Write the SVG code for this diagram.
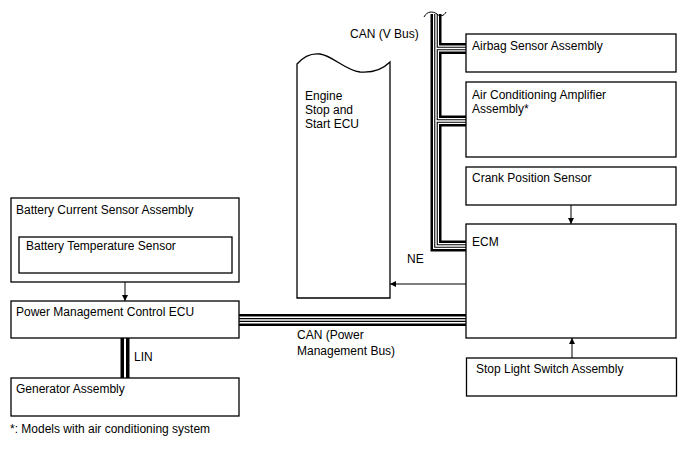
<svg xmlns="http://www.w3.org/2000/svg" width="688" height="463" viewBox="0 0 688 463">
<defs>
<style>
.box{fill:#fff;stroke:#000;stroke-width:1.3}
.t{font-family:"Liberation Sans",Arial,sans-serif;font-size:12px;fill:#000}
.ln{fill:none;stroke:#000;stroke-width:1}
.b1{fill:none;stroke:#000;stroke-linejoin:miter}
.b2{fill:none;stroke:#fff;stroke-linejoin:miter}
</style>
<marker id="ah" viewBox="0 0 10 10" refX="10" refY="5" markerWidth="6" markerHeight="8" markerUnits="userSpaceOnUse" orient="auto">
<path d="M0,0 L10,5 L0,10 Z" fill="#000"/>
</marker>
</defs>
<rect width="688" height="463" fill="#fff"/>

<g id="connectors">
  <g id="can-v-bus">
    <path class="b1" stroke-width="11" d="M436,14 V246 H466 M436,48.5 H466 M436,121 H466"/>
    <path class="b2" stroke-width="6" d="M436,12 V246 H466 M436,48.5 H466 M436,121 H466"/>
    <path class="b1" stroke-width="3.6" d="M436,13 V246 H466 M436,48.5 H466 M436,121 H466"/>
    <path class="b2" stroke-width="1.4" d="M436,12 V246 H466 M436,48.5 H466 M436,121 H466"/>
    <rect x="428" y="6" width="20" height="8" fill="#fff"/>
    <path class="ln" stroke-width="1.4" d="M424,17 C427,11 433,11 437,14 C440,17 444,16 446,12"/>
  </g>
  <g id="can-pm-bus">
    <path class="b1" stroke-width="12" d="M239,320 H466"/>
    <path class="b2" stroke-width="7" d="M239,320 H466"/>
    <path class="b1" stroke-width="3.8" d="M239,320 H466"/>
    <path class="b2" stroke-width="1.6" d="M239,320 H466"/>
  </g>
  <g id="lin">
    <path class="b1" stroke-width="9" d="M125,338 V378"/>
    <path class="b2" stroke-width="2" d="M125,338 V378"/>
  </g>
  <line class="ln" x1="125" y1="282" x2="125" y2="301" marker-end="url(#ah)"/>
  <line class="ln" x1="571" y1="205" x2="571" y2="224" marker-end="url(#ah)"/>
  <line class="ln" x1="572" y1="358" x2="572" y2="338" marker-end="url(#ah)"/>
  <line class="ln" x1="466" y1="284" x2="390" y2="284" marker-end="url(#ah)"/>
  <text class="t" x="350" y="38">CAN (V Bus)</text>
  <text class="t" x="297" y="339">CAN (Power</text>
  <text class="t" x="297" y="355">Management Bus)</text>
  <text class="t" x="134" y="361">LIN</text>
  <text class="t" x="407" y="263">NE</text>
</g>

<g id="engine-ecu">
  <path class="box" d="M297,298 V64 C304,56 312,53 320,54 C333,56 345,70 360,72 C372,73 383,69 390,62 V298 Z"/>
  <text class="t" x="305" y="100">Engine</text>
  <text class="t" x="305" y="114">Stop and</text>
  <text class="t" x="305" y="128">Start ECU</text>
</g>

<g id="airbag">
  <rect class="box" x="466" y="34" width="210" height="38"/>
  <text class="t" x="472" y="50">Airbag Sensor Assembly</text>
</g>
<g id="ac-amp">
  <rect class="box" x="466" y="82" width="210" height="75"/>
  <text class="t" x="472" y="99">Air Conditioning Amplifier</text>
  <text class="t" x="472" y="113">Assembly*</text>
</g>
<g id="crank">
  <rect class="box" x="466" y="167" width="210" height="38"/>
  <text class="t" x="472" y="182">Crank Position Sensor</text>
</g>
<g id="ecm">
  <rect class="box" x="466" y="224" width="210" height="114"/>
  <text class="t" x="472" y="246">ECM</text>
</g>
<g id="stop-light">
  <rect class="box" x="466.5" y="358" width="210" height="38"/>
  <text class="t" x="476" y="373">Stop Light Switch Assembly</text>
</g>

<g id="battery-current">
  <rect class="box" x="11" y="198" width="228" height="84"/>
  <text class="t" x="16" y="214">Battery Current Sensor Assembly</text>
</g>
<g id="battery-temp">
  <rect class="box" x="19" y="237" width="213" height="36"/>
  <text class="t" x="26" y="250">Battery Temperature Sensor</text>
</g>
<g id="pmc-ecu">
  <rect class="box" x="11" y="301" width="228" height="37"/>
  <text class="t" x="16" y="316">Power Management Control ECU</text>
</g>
<g id="generator">
  <rect class="box" x="11" y="378" width="228" height="38"/>
  <text class="t" x="16" y="393">Generator Assembly</text>
</g>

<text class="t" x="10" y="433">*: Models with air conditioning system</text>
</svg>
